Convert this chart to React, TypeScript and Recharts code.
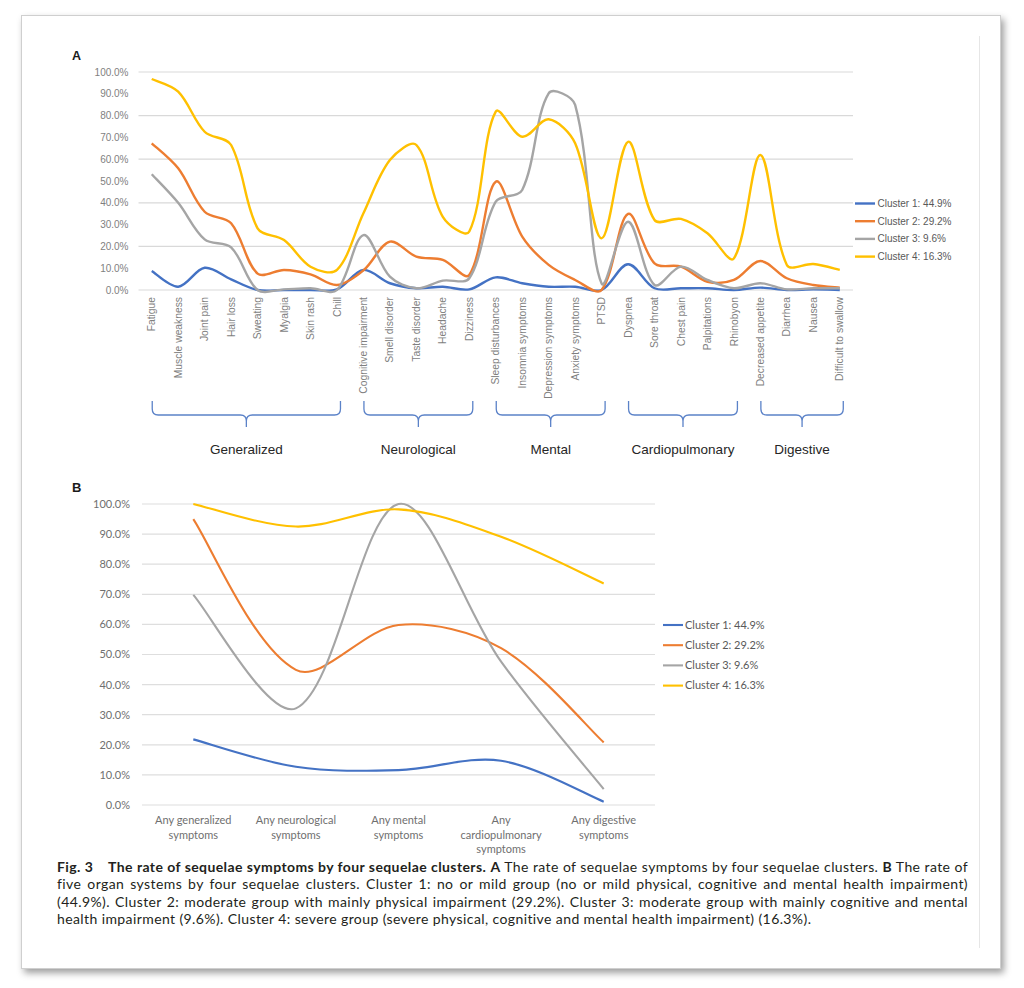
import React from 'react';
import { LineChart, Line, XAxis, YAxis, CartesianGrid } from 'recharts';

// ---------- Data ----------
const categoriesA = [
  'Fatigue', 'Muscle weakness', 'Joint pain', 'Hair loss', 'Sweating', 'Myalgia', 'Skin rash', 'Chill',
  'Cognitive impairment', 'Smell disorder', 'Taste disorder', 'Headache', 'Dizziness',
  'Sleep disturbances', 'Insomnia symptoms', 'Depression symptoms', 'Anxiety symptoms', 'PTSD',
  'Dyspnea', 'Sore throat', 'Chest pain', 'Palpitations', 'Rhinobyon',
  'Decreased appetite', 'Diarrhea', 'Nausea', 'Difficult to swallow',
];
const groupLabelsA = ['Generalized', 'Neurological', 'Mental', 'Cardiopulmonary', 'Digestive'];
const groupStartA = [0, 8, 13, 18, 23];
const groupEndA = [7, 12, 17, 22, 26];

const cluster1A = [8.7, 1.5, 10.2, 4.9, 0, 0, 0, 0.3, 9.2, 3.1, 0.8, 1.5, 0.3, 5.8, 3.1, 1.5, 1.5, 0, 11.8, 0.8, 0.8, 0.8, 0, 1.1, 0, 0.3, 0];
const cluster2A = [67.3, 55.8, 35.9, 30.6, 7.5, 9.2, 7.2, 2.3, 9.0, 22.2, 15.3, 13.8, 6.9, 49.7, 24.5, 11.5, 4.6, 0, 34.9, 12.2, 10.7, 3.8, 4.6, 13.3, 5.4, 2.3, 1.1];
const cluster3A = [53.1, 40.0, 23.2, 19.6, 0, 0.3, 0.8, 0, 25.2, 6.1, 0.8, 4.3, 5.4, 40.5, 45.9, 90.2, 84.9, 3.0, 31.3, 2.3, 10.7, 4.6, 0.8, 3.1, 0.3, 0.8, 0.8];
const cluster4A = [96.8, 91.0, 72.6, 66.5, 28.3, 22.9, 10.7, 9.2, 35.2, 59.6, 66.5, 33.6, 26.8, 81.8, 70.3, 78.3, 67.3, 23.7, 68.0, 32.1, 32.6, 26.0, 14.5, 61.9, 11.5, 11.9, 9.2];

const categoriesB = [
  'Any generalized\nsymptoms',
  'Any neurological\nsymptoms',
  'Any mental\nsymptoms',
  'Any\ncardiopulmonary\nsymptoms',
  'Any digestive\nsymptoms',
];
const cluster1B = [21.8, 12.7, 11.6, 14.7, 1.1];
const cluster2B = [95.0, 44.9, 59.8, 52.1, 20.8];
const cluster3B = [69.8, 32.1, 100, 47.6, 5.3];
const cluster4B = [100, 92.5, 98.2, 89.1, 73.6];

const yTicks = [0, 10, 20, 30, 40, 50, 60, 70, 80, 90, 100];
const seriesNames = ['Cluster 1: 44.9%', 'Cluster 2: 29.2%', 'Cluster 3: 9.6%', 'Cluster 4: 16.3%'];
const seriesKeys = ['c1', 'c2', 'c3', 'c4'];
const seriesColors = ['#4472C4', '#ED7D31', '#A5A5A5', '#FFC000'];

const dataA = categoriesA.map((name, i) => ({
  name, c1: cluster1A[i], c2: cluster2A[i], c3: cluster3A[i], c4: cluster4A[i],
}));
const dataB = categoriesB.map((name, i) => ({
  name, c1: cluster1B[i], c2: cluster2B[i], c3: cluster3B[i], c4: cluster4B[i],
}));

// ---------- Excel-like smoothed curve (distance-weighted Catmull-Rom) ----------
const excelCurve: any = (context: any) => {
  let pts: number[][] = [];
  return {
    areaStart() {},
    areaEnd() {},
    lineStart() { pts = []; },
    point(x: number, y: number) { pts.push([+x, +y]); },
    lineEnd() {
      const n = pts.length;
      if (!n) return;
      context.moveTo(pts[0][0], pts[0][1]);
      if (n === 1) return;
      const dist = (a: number[], b: number[]) => Math.hypot(b[0] - a[0], b[1] - a[1]) || 1e-6;
      const outH: number[][] = [];
      const inH: number[][] = [];
      for (let i = 0; i < n; i++) {
        const p = pts[i];
        if (i === 0) {
          const q = pts[1];
          outH[i] = [p[0] + (q[0] - p[0]) / 6, p[1] + (q[1] - p[1]) / 6];
          inH[i] = p;
        } else if (i === n - 1) {
          const q = pts[n - 2];
          inH[i] = [p[0] + (q[0] - p[0]) / 6, p[1] + (q[1] - p[1]) / 6];
          outH[i] = p;
        } else {
          const a = pts[i - 1], b = pts[i + 1];
          const tx = b[0] - a[0], ty = b[1] - a[1];
          const d1 = dist(a, p), d2 = dist(p, b);
          const k = 1 / 3;
          const fo = (d2 / (d1 + d2)) * k;
          const fi = (d1 / (d1 + d2)) * k;
          outH[i] = [p[0] + tx * fo, p[1] + ty * fo];
          inH[i] = [p[0] - tx * fi, p[1] - ty * fi];
        }
      }
      for (let i = 0; i < n - 1; i++) {
        const c1 = outH[i], c2 = inH[i + 1], p2 = pts[i + 1];
        context.bezierCurveTo(c1[0], c1[1], c2[0], c2[1], p2[0], p2[1]);
      }
    },
  };
};

const pct = (v: number) => `${v.toFixed(1)}%`;

// ---------- Layout ----------
const A_LEFT = 60, A_TOP = 60, A_W = 800, A_H = 360;
const A_MARGIN = { top: 12, right: 7, left: 0, bottom: 0 };
const A_YW = 78.5, A_XH = 130;
const A_PLOT_L = A_LEFT + A_MARGIN.left + A_YW;
const A_PLOT_R = A_LEFT + A_W - A_MARGIN.right;
const A_BAND = (A_PLOT_R - A_PLOT_L) / categoriesA.length;
const aX = (i: number) => A_PLOT_L + A_BAND * (i + 0.5);

const B_LEFT = 60, B_TOP = 490, B_W = 600, B_H = 380;
const B_MARGIN = { top: 14, right: 5, left: 0, bottom: 0 };
const B_YW = 82, B_XH = 65;
const B_BAND = (B_W - B_MARGIN.right - B_MARGIN.left - B_YW) / categoriesB.length;

const fontA = '"Liberation Sans", Arial, sans-serif';
const fontB = 'Lato, "Open Sans", sans-serif';

const TickA = (props: any) => {
  const { x, y, payload } = props;
  return (
    <text
      x={x}
      y={y}
      transform={`rotate(-90 ${x} ${y})`}
      textAnchor="end"
      dy="0.35em"
      fontSize={10.3}
      fontFamily={fontA}
      fill="#7f7f7f"
    >
      {payload.value}
    </text>
  );
};

const TickB = (props: any) => {
  const { x, y, payload } = props;
  const lines = String(payload.value).split('\n');
  return (
    <text x={x} y={y + 17} textAnchor="middle" fontSize={11} fontFamily={fontB} fill="#6f6f6f">
      {lines.map((l, i) => (
        <tspan key={i} x={x} dy={i === 0 ? 0 : 14.6}>{l}</tspan>
      ))}
    </text>
  );
};

const bracePath = (x0: number, x1: number) => {
  const yt = 401, yh = 415, yb = 427;
  const xm = (x0 + x1) / 2;
  return [
    `M ${x0} ${yt}`,
    `L ${x0} ${yh - 6}`,
    `Q ${x0} ${yh} ${x0 + 6} ${yh}`,
    `L ${xm - 6} ${yh}`,
    `Q ${xm} ${yh} ${xm} ${yh + 6}`,
    `L ${xm} ${yb}`,
    `M ${xm} ${yh + 6}`,
    `Q ${xm} ${yh} ${xm + 6} ${yh}`,
    `L ${x1 - 6} ${yh}`,
    `Q ${x1} ${yh} ${x1} ${yh - 6}`,
    `L ${x1} ${yt}`,
  ].join(' ');
};

const captionLines = [
  { just: true, parts: [
    { b: true, t: 'Fig. 3\u2002\u2002The rate of sequelae symptoms by four sequelae clusters.' },
    { b: false, t: ' ' }, { b: true, t: 'A' },
    { b: false, t: ' The rate of sequelae symptoms by four sequelae clusters. ' },
    { b: true, t: 'B' }, { b: false, t: ' The rate of' },
  ] },
  { just: true, parts: [{ b: false, t: 'five organ systems by four sequelae clusters. Cluster 1: no or mild group (no or mild physical, cognitive and mental health impairment)' }] },
  { just: true, parts: [{ b: false, t: '(44.9%). Cluster 2: moderate group with mainly physical impairment (29.2%). Cluster 3: moderate group with mainly cognitive and mental' }] },
  { just: false, parts: [{ b: false, t: 'health impairment (9.6%). Cluster 4: severe group (severe physical, cognitive and mental health impairment) (16.3%).' }] },
];

export default function App() {
  return (
    <div style={{ position: 'absolute', left: 0, top: 0, width: 1024, height: 988, background: '#fff', overflow: 'hidden' }}>
      {/* card */}
      <div style={{
        position: 'absolute', left: 21, top: 15, width: 978, height: 952,
        border: '1px solid #cfcfcf', background: '#fff',
        boxShadow: '3px 4px 7px rgba(0,0,0,0.38)',
      }} />
      <div style={{ position: 'absolute', left: 979, top: 36, width: 1, height: 912, background: '#e6e6e6' }} />

      {/* Chart A */}
      <div style={{ position: 'absolute', left: A_LEFT, top: A_TOP }}>
        <LineChart width={A_W} height={A_H} data={dataA} margin={A_MARGIN}>
          <CartesianGrid horizontal vertical={false} stroke="#d9d9d9" strokeWidth={1.2} />
          <XAxis dataKey="name" interval={0} tickSize={0} tickMargin={7} axisLine={false} tickLine={false}
            height={A_XH} tick={<TickA />} padding={{ left: A_BAND / 2, right: A_BAND / 2 }} />
          <YAxis
            width={A_YW} domain={[0, 100]} ticks={yTicks} tickFormatter={pct}
            axisLine={false} tickLine={false} tickSize={0} tickMargin={10}
            tick={{ fontSize: 10, fontFamily: fontA, fill: '#7f7f7f' }}
          />
          {seriesKeys.map((k, i) => (
            <Line key={k} dataKey={k} name={seriesNames[i]} type={excelCurve} stroke={seriesColors[i]}
              strokeWidth={2.4} dot={false} activeDot={false} isAnimationActive={false} />
          ))}
        </LineChart>
      </div>

      {/* Chart B */}
      <div style={{ position: 'absolute', left: B_LEFT, top: B_TOP }}>
        <LineChart width={B_W} height={B_H} data={dataB} margin={B_MARGIN}>
          <CartesianGrid horizontal vertical={false} stroke="#dedede" strokeWidth={1.2} />
          <XAxis dataKey="name" interval={0} tickSize={0} tickMargin={2} axisLine={false} tickLine={false}
            height={B_XH} tick={<TickB />} padding={{ left: B_BAND / 2, right: B_BAND / 2 }} />
          <YAxis
            width={B_YW} domain={[0, 100]} ticks={yTicks} tickFormatter={pct}
            axisLine={false} tickLine={false} tickSize={0} tickMargin={12}
            tick={{ fontSize: 11, fontFamily: fontB, fill: '#6f6f6f' }}
          />
          {seriesKeys.map((k, i) => (
            <Line key={k} dataKey={k} name={seriesNames[i]} type={excelCurve} stroke={seriesColors[i]}
              strokeWidth={2.1} dot={false} activeDot={false} isAnimationActive={false} />
          ))}
        </LineChart>
      </div>

      {/* overlay: labels, braces, legends */}
      <svg style={{ position: 'absolute', left: 0, top: 0, pointerEvents: 'none' }} width={1024} height={988}>
        <text x={72} y={60} fontSize={12.5} fontWeight="bold" fontFamily={fontA} fill="#1a1a1a">A</text>
        <text x={72} y={492} fontSize={13} fontWeight="bold" fontFamily={fontA} fill="#1a1a1a">B</text>

        {groupLabelsA.map((g, gi) => {
          const x0 = aX(groupStartA[gi]) + 0.5;
          const x1 = aX(groupEndA[gi]) + 3.5;
          return (
            <g key={g}>
              <path d={bracePath(x0, x1)} fill="none" stroke="#5b82c8" strokeWidth={1.3} />
              <text x={(x0 + x1) / 2} y={454} textAnchor="middle" fontSize={13.5} fontFamily={fontA} fill="#262626">{g}</text>
            </g>
          );
        })}

        {seriesNames.map((n, i) => (
          <g key={n}>
            <line x1={855} x2={875} y1={203.5 + i * 17.7} y2={203.5 + i * 17.7} stroke={seriesColors[i]} strokeWidth={2.4} />
            <text x={877.5} y={203.5 + i * 17.7} dy="0.35em" fontSize={10} fontFamily={fontA} fill="#595959">{n}</text>
          </g>
        ))}

        {seriesNames.map((n, i) => (
          <g key={'b' + n}>
            <line x1={663} x2={683} y1={625 + i * 20.2} y2={625 + i * 20.2} stroke={seriesColors[i]} strokeWidth={2.1} />
            <text x={685} y={625 + i * 20.2} dy="0.35em" fontSize={11} fontFamily={fontB} fill="#595959">{n}</text>
          </g>
        ))}
      </svg>

      {/* caption */}
      <div style={{ position: 'absolute', left: 57, top: 858, width: 911, fontFamily: 'Lato, "Open Sans", sans-serif', fontSize: 14, letterSpacing: '0.4px', lineHeight: '17.3px', color: '#231f20' }}>
        {captionLines.map((ln, li) => (
          <div key={li} style={{ textAlign: ln.just ? 'justify' : 'left', textAlignLast: ln.just ? 'justify' : 'left', whiteSpace: 'nowrap' } as any}>
            {ln.parts.map((p, pi) => (
              <span key={pi} style={{ fontWeight: p.b ? 700 : 400 }}>{p.t}</span>
            ))}
          </div>
        ))}
      </div>
    </div>
  );
}
